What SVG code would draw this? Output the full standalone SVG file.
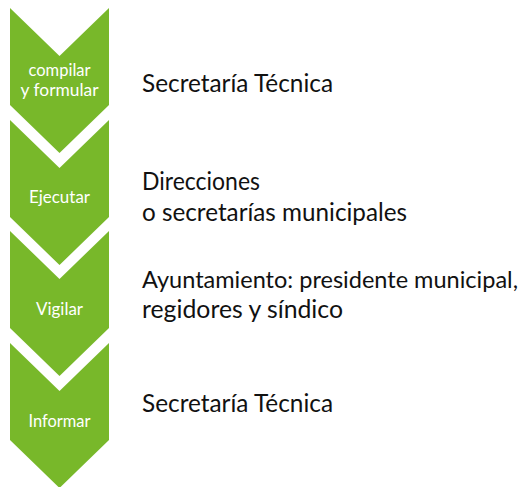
<svg xmlns="http://www.w3.org/2000/svg" width="525" height="487" viewBox="0 0 525 487">
  <defs>
    <style>
      .chev { fill: #78B82A; }
      .lbl { font-family: Lato, "Open Sans", "Liberation Sans", sans-serif; font-size: 16.5px; fill: #ffffff; text-anchor: middle; }
      .desc { font-family: Lato, "Open Sans", "Liberation Sans", sans-serif; font-size: 25px; fill: #111111; }
      .desc-long { font-size: 23.5px; }
    </style>
    <path id="chevron" d="M10,0 L59.5,48 L109,0 L109,97 L59.5,145 L10,97 Z"/>
  </defs>
  <rect width="525" height="487" fill="#ffffff"/>

  <g id="step-compilar">
    <use href="#chevron" class="chev" transform="translate(0,8)"/>
    <text class="lbl" x="59.5" y="76" textLength="62" lengthAdjust="spacingAndGlyphs">compilar</text>
    <text class="lbl" x="59.5" y="96" textLength="78" lengthAdjust="spacingAndGlyphs">y formular</text>
    <text class="desc" x="142" y="92" textLength="191" lengthAdjust="spacingAndGlyphs">Secretaría Técnica</text>
  </g>

  <g id="step-ejecutar">
    <use href="#chevron" class="chev" transform="translate(0,120)"/>
    <text class="lbl" x="59.5" y="203" textLength="61" lengthAdjust="spacingAndGlyphs">Ejecutar</text>
    <text class="desc" x="142" y="190" textLength="118" lengthAdjust="spacingAndGlyphs">Direcciones</text>
    <text class="desc" x="142" y="221" textLength="265" lengthAdjust="spacingAndGlyphs">o secretarías municipales</text>
  </g>

  <g id="step-vigilar">
    <use href="#chevron" class="chev" transform="translate(0,231)"/>
    <text class="lbl" x="59.5" y="315" textLength="47" lengthAdjust="spacingAndGlyphs">Vigilar</text>
    <text class="desc desc-long" x="142" y="288" textLength="376" lengthAdjust="spacingAndGlyphs">Ayuntamiento: presidente municipal,</text>
    <text class="desc" x="142" y="318" textLength="201" lengthAdjust="spacingAndGlyphs">regidores y síndico</text>
  </g>

  <g id="step-informar">
    <use href="#chevron" class="chev" transform="translate(0,343)"/>
    <text class="lbl" x="59.5" y="427" textLength="62" lengthAdjust="spacingAndGlyphs">Informar</text>
    <text class="desc" x="142" y="412" textLength="191" lengthAdjust="spacingAndGlyphs">Secretaría Técnica</text>
  </g>
</svg>
